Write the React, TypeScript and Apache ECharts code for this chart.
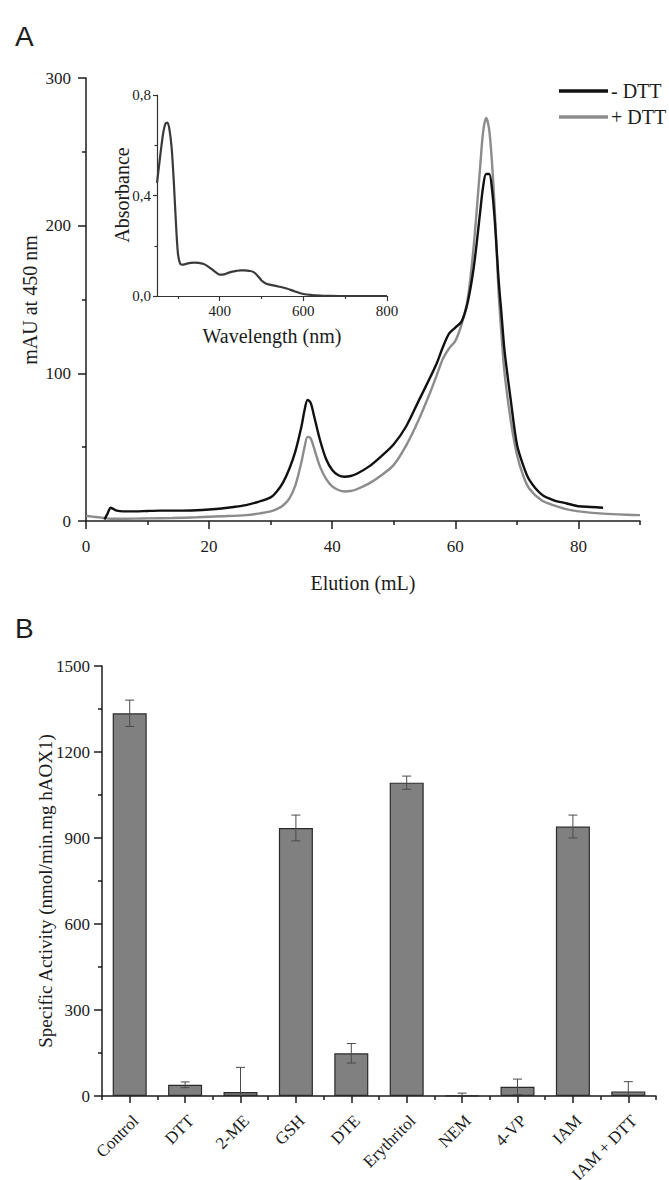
import React, { useEffect, useRef } from 'react';
import * as echarts from 'echarts';

// ---- Panel A: size-exclusion chromatogram (mAU at 450 nm vs elution volume) ----
const elutionMinusDTT = [3.0, 3.5, 4.0, 4.5, 5, 6, 8, 10, 12, 15, 18, 20, 22, 24, 26, 28, 30, 31, 32, 33, 34, 35, 35.5, 36, 36.5, 37, 38, 39, 40, 41, 42, 43, 44, 46, 48, 50, 52, 54, 56, 57, 58, 59, 60, 61, 62, 63, 64, 64.5, 65, 65.5, 66, 66.5, 67, 67.5, 68, 69, 70, 71, 72, 74, 76, 78, 80, 82, 84];
const mauMinusDTT = [1, 5, 9, 8, 7, 6.5, 6.5, 6.8, 7, 7, 7.3, 7.8, 8.5, 9.5, 10.8, 13, 16, 20, 26, 35, 47, 64, 75, 82, 80, 72, 55, 42, 34.5, 31, 30, 30.5, 32, 37, 44, 52, 64, 81, 98, 107, 118, 127, 131, 135, 148, 172, 208, 226, 235, 235, 223, 198, 165, 140, 115, 82, 52, 38, 28, 18, 14, 12, 10, 9.5, 9];
const elutionPlusDTT = [0, 1, 2, 3, 4, 6, 8, 10, 14, 18, 22, 26, 28, 30, 31, 32, 33, 34, 35, 35.5, 36, 36.5, 37, 38, 39, 40, 41, 42, 43, 44, 46, 48, 50, 52, 54, 56, 57, 58, 59, 60, 61, 62, 63, 64, 64.5, 65, 65.5, 66, 66.5, 67, 67.5, 68, 69, 70, 71, 72, 74, 76, 78, 80, 84, 88, 90];
const mauPlusDTT = [3.5, 3, 2.5, 2, 1.5, 1.5, 1.6, 1.8, 2, 2.5, 3.2, 4, 5, 6.5, 8, 10.5, 15, 24, 40, 50, 57, 56, 50, 37, 28.5, 23.5, 21, 20, 20.3, 21.5, 25.5, 31, 38, 51, 68, 88, 99, 110, 117, 122, 133, 150, 187, 238, 263, 273, 265, 240, 203, 157, 126, 100, 68, 45, 31, 22, 14, 10.5, 8, 6.5, 5, 4.2, 4];

// ---- Inset: UV-Vis spectrum ----
const wavelengthNm = [250, 255, 260, 265, 270, 275, 280, 285, 290, 295, 300, 305, 310, 320, 330, 340, 350, 360, 370, 380, 390, 400, 410, 420, 430, 440, 450, 460, 470, 480, 490, 500, 510, 520, 540, 560, 580, 600, 620, 640, 660, 700, 750, 800];
const absorbance = [0.45, 0.52, 0.59, 0.65, 0.685, 0.69, 0.66, 0.59, 0.46, 0.3, 0.17, 0.13, 0.125, 0.128, 0.132, 0.133, 0.132, 0.128, 0.12, 0.108, 0.095, 0.085, 0.086, 0.092, 0.097, 0.1, 0.102, 0.102, 0.1, 0.096, 0.082, 0.062, 0.05, 0.045, 0.038, 0.03, 0.018, 0.008, 0.004, 0.002, 0.001, 0, 0, 0];

// ---- Panel B: specific activity ----
const treatments = ['Control', 'DTT', '2-ME', 'GSH', 'DTE', 'Erythritol', 'NEM', '4-VP', 'IAM', 'IAM + DTT'];
const specificActivity = [1335, 39, 14, 935, 149, 1093, 1, 32, 940, 16];
const activitySD = [46, 10, 86, 45, 34, 23, 9, 27, 40, 34];

// ---- tick values ----
const elutionTicks = [0, 20, 40, 60, 80];
const elutionMinorTicks = [10, 30, 50, 70, 90];
const wavelengthTicks = [400, 600, 800];
const wavelengthMinorTicks = [300, 500, 700];

const SERIF = '"Liberation Serif", "Times New Roman", Times, serif';
const SANS = '"Liberation Sans", Arial, Helvetica, sans-serif';
const INK = '#1c1c1c';

const zip = (xs: number[], ys: number[]) => xs.map((x, i) => [x, ys[i]]);

export default function App() {
  const ref = useRef<HTMLDivElement>(null);

  useEffect(() => {
    document.body.style.margin = '0';
    const chart = echarts.init(ref.current as HTMLDivElement, null, { renderer: 'svg' });

    const axisLine = { show: true, onZero: false, lineStyle: { color: INK, width: 1.5 } };
    const tickLabel = (size: number, margin: number) => ({
      color: INK,
      fontFamily: SERIF,
      fontSize: size,
      margin,
    });
    const plain = (v: number) => String(v);

    const option: any = {
      animation: false,
      backgroundColor: '#ffffff',
      grid: [
        { left: 86, top: 78, width: 554, height: 443, outerBoundsMode: 'none' },
        { left: 157, top: 95, width: 230, height: 201, outerBoundsMode: 'none' },
        { left: 102, top: 666, width: 554, height: 430, outerBoundsMode: 'none' },
      ],
      xAxis: [
        {
          gridIndex: 0, type: 'value', min: 0, max: 90, position: 'bottom',
          axisLine,
          axisTick: { show: true, length: 8, customValues: elutionTicks, lineStyle: { color: INK, width: 1.5 } },
          axisLabel: { ...tickLabel(17, 17), customValues: elutionTicks, formatter: plain },
          splitLine: { show: false },
        },
        {
          gridIndex: 0, type: 'value', min: 0, max: 90, position: 'bottom',
          axisLine: { show: false, onZero: false },
          axisTick: { show: true, length: 4, customValues: elutionMinorTicks, lineStyle: { color: INK, width: 1.5 } },
          axisLabel: { show: false },
          splitLine: { show: false },
        },
        {
          gridIndex: 1, type: 'value', min: 250, max: 800, position: 'bottom',
          axisLine: { show: true, onZero: false, lineStyle: { color: '#333', width: 1.2 } },
          axisTick: { show: true, length: 5, customValues: wavelengthTicks, lineStyle: { color: '#333', width: 1.2 } },
          axisLabel: { ...tickLabel(15, 7), customValues: wavelengthTicks, formatter: plain },
          splitLine: { show: false },
        },
        {
          gridIndex: 1, type: 'value', min: 250, max: 800, position: 'bottom',
          axisLine: { show: false, onZero: false },
          axisTick: { show: true, length: 3, customValues: wavelengthMinorTicks, lineStyle: { color: '#333', width: 1.2 } },
          axisLabel: { show: false },
          splitLine: { show: false },
        },
        {
          gridIndex: 2, type: 'category', data: treatments, position: 'bottom',
          axisLine,
          axisTick: { show: true, alignWithLabel: true, length: 7, lineStyle: { color: INK, width: 1.5 } },
          axisLabel: { ...tickLabel(17, 16), rotate: 45, interval: 0, verticalAlign: 'top' },
          splitLine: { show: false },
        },
        {
          gridIndex: 2, type: 'category', data: treatments, position: 'bottom',
          axisLine: { show: false, onZero: false },
          axisTick: { show: true, alignWithLabel: false, interval: 0, length: 4, lineStyle: { color: INK, width: 1.5 } },
          axisLabel: { show: false },
          splitLine: { show: false },
        },
      ],
      yAxis: [
        {
          gridIndex: 0, type: 'value', min: 0, max: 300, interval: 100,
          axisLine,
          axisTick: { show: true, length: 8, lineStyle: { color: INK, width: 1.5 } },
          minorTick: { show: true, splitNumber: 2, length: 4, lineStyle: { color: INK, width: 1.5 } },
          axisLabel: { ...tickLabel(17, 15), formatter: plain },
          splitLine: { show: false },
          minorSplitLine: { show: false },
        },
        {
          gridIndex: 1, type: 'value', min: 0, max: 0.8, interval: 0.4,
          axisLine: { show: true, onZero: false, lineStyle: { color: '#333', width: 1.2 } },
          axisTick: { show: true, length: 4, lineStyle: { color: '#333', width: 1.2 } },
          minorTick: { show: true, splitNumber: 2, length: 2.5, lineStyle: { color: '#333', width: 1.2 } },
          axisLabel: { ...tickLabel(15, 6), formatter: (v: number) => v.toFixed(1).replace('.', ',') },
          splitLine: { show: false },
          minorSplitLine: { show: false },
        },
        {
          gridIndex: 2, type: 'value', min: 0, max: 1500, interval: 300,
          axisLine,
          axisTick: { show: true, length: 8, lineStyle: { color: INK, width: 1.5 } },
          minorTick: { show: true, splitNumber: 2, length: 4, lineStyle: { color: INK, width: 1.5 } },
          axisLabel: { ...tickLabel(17, 12), formatter: plain },
          splitLine: { show: false },
          minorSplitLine: { show: false },
        },
      ],
      legend: {
        orient: 'vertical',
        left: 559,
        top: 81,
        itemWidth: 49,
        itemHeight: 3.5,
        itemGap: 6,
        icon: 'rect',
        selectedMode: false,
        padding: 0,
        textStyle: { color: INK, fontFamily: SERIF, fontSize: 20, padding: [0, 0, 0, -2] },
        data: ['- DTT', '+ DTT'],
      },
      series: [
        {
          name: '- DTT', type: 'line', xAxisIndex: 0, yAxisIndex: 0,
          data: zip(elutionMinusDTT, mauMinusDTT),
          showSymbol: false, symbol: 'none', smooth: 0.3,
          lineStyle: { color: '#111111', width: 2.4 },
          itemStyle: { color: '#111111' },
          z: 3,
        },
        {
          name: '+ DTT', type: 'line', xAxisIndex: 0, yAxisIndex: 0,
          data: zip(elutionPlusDTT, mauPlusDTT),
          showSymbol: false, symbol: 'none', smooth: 0.3,
          lineStyle: { color: '#8c8c8c', width: 2.4 },
          itemStyle: { color: '#8c8c8c' },
          z: 2,
        },
        {
          name: 'Absorbance', type: 'line', xAxisIndex: 2, yAxisIndex: 1,
          data: zip(wavelengthNm, absorbance),
          showSymbol: false, symbol: 'none', smooth: 0.3,
          lineStyle: { color: '#3a3a3a', width: 2.2 },
        },
        {
          name: 'Specific Activity', type: 'bar', xAxisIndex: 4, yAxisIndex: 2,
          data: specificActivity,
          barWidth: 34,
          itemStyle: { color: '#808080', borderColor: '#2a2a2a', borderWidth: 1.2 },
        },
        {
          name: 'SD', type: 'custom', xAxisIndex: 4, yAxisIndex: 2,
          data: specificActivity.map((v, i) => [i, v - activitySD[i], v + activitySD[i]]),
          z: 5,
          renderItem: (params: any, api: any) => {
            const i = api.value(0);
            const lo = api.value(1);
            const hi = api.value(2);
            const top = api.coord([i, hi]);
            const bottom = api.coord([i, Math.max(lo, 0)]);
            const cap = 4.5;
            const style = { stroke: '#4a4a4a', lineWidth: 1 };
            const children: any[] = [
              { type: 'line', shape: { x1: top[0], y1: top[1], x2: bottom[0], y2: bottom[1] }, style },
              { type: 'line', shape: { x1: top[0] - cap, y1: top[1], x2: top[0] + cap, y2: top[1] }, style },
            ];
            if (lo >= 0) {
              children.push({ type: 'line', shape: { x1: bottom[0] - cap, y1: bottom[1], x2: bottom[0] + cap, y2: bottom[1] }, style });
            }
            return { type: 'group', children };
          },
        },
      ],
      graphic: [
        { type: 'text', left: 15, top: 22, style: { text: 'A', font: `28px ${SANS}`, fill: INK } },
        { type: 'text', left: 15, top: 614, style: { text: 'B', font: `28px ${SANS}`, fill: INK } },
        {
          type: 'text', x: 30, y: 300, rotation: Math.PI / 2,
          style: { text: 'mAU at 450 nm', font: `20px ${SERIF}`, fill: INK, textAlign: 'center', textVerticalAlign: 'middle' },
        },
        {
          type: 'text', x: 363, y: 583,
          style: { text: 'Elution (mL)', font: `20px ${SERIF}`, fill: INK, textAlign: 'center', textVerticalAlign: 'middle' },
        },
        {
          type: 'text', x: 122, y: 195, rotation: Math.PI / 2,
          style: { text: 'Absorbance', font: `20px ${SERIF}`, fill: INK, textAlign: 'center', textVerticalAlign: 'middle' },
        },
        {
          type: 'text', x: 272, y: 336,
          style: { text: 'Wavelength (nm)', font: `20px ${SERIF}`, fill: INK, textAlign: 'center', textVerticalAlign: 'middle' },
        },
        {
          type: 'text', x: 45, y: 891, rotation: Math.PI / 2,
          style: { text: 'Specific Activity (nmol/min.mg hAOX1)', font: `19px ${SERIF}`, fill: INK, textAlign: 'center', textVerticalAlign: 'middle' },
        },
      ],
    };

    chart.setOption(option);
    return () => chart.dispose();
  }, []);

  return <div ref={ref} style={{ width: 669, height: 1180, background: '#ffffff' }} />;
}
